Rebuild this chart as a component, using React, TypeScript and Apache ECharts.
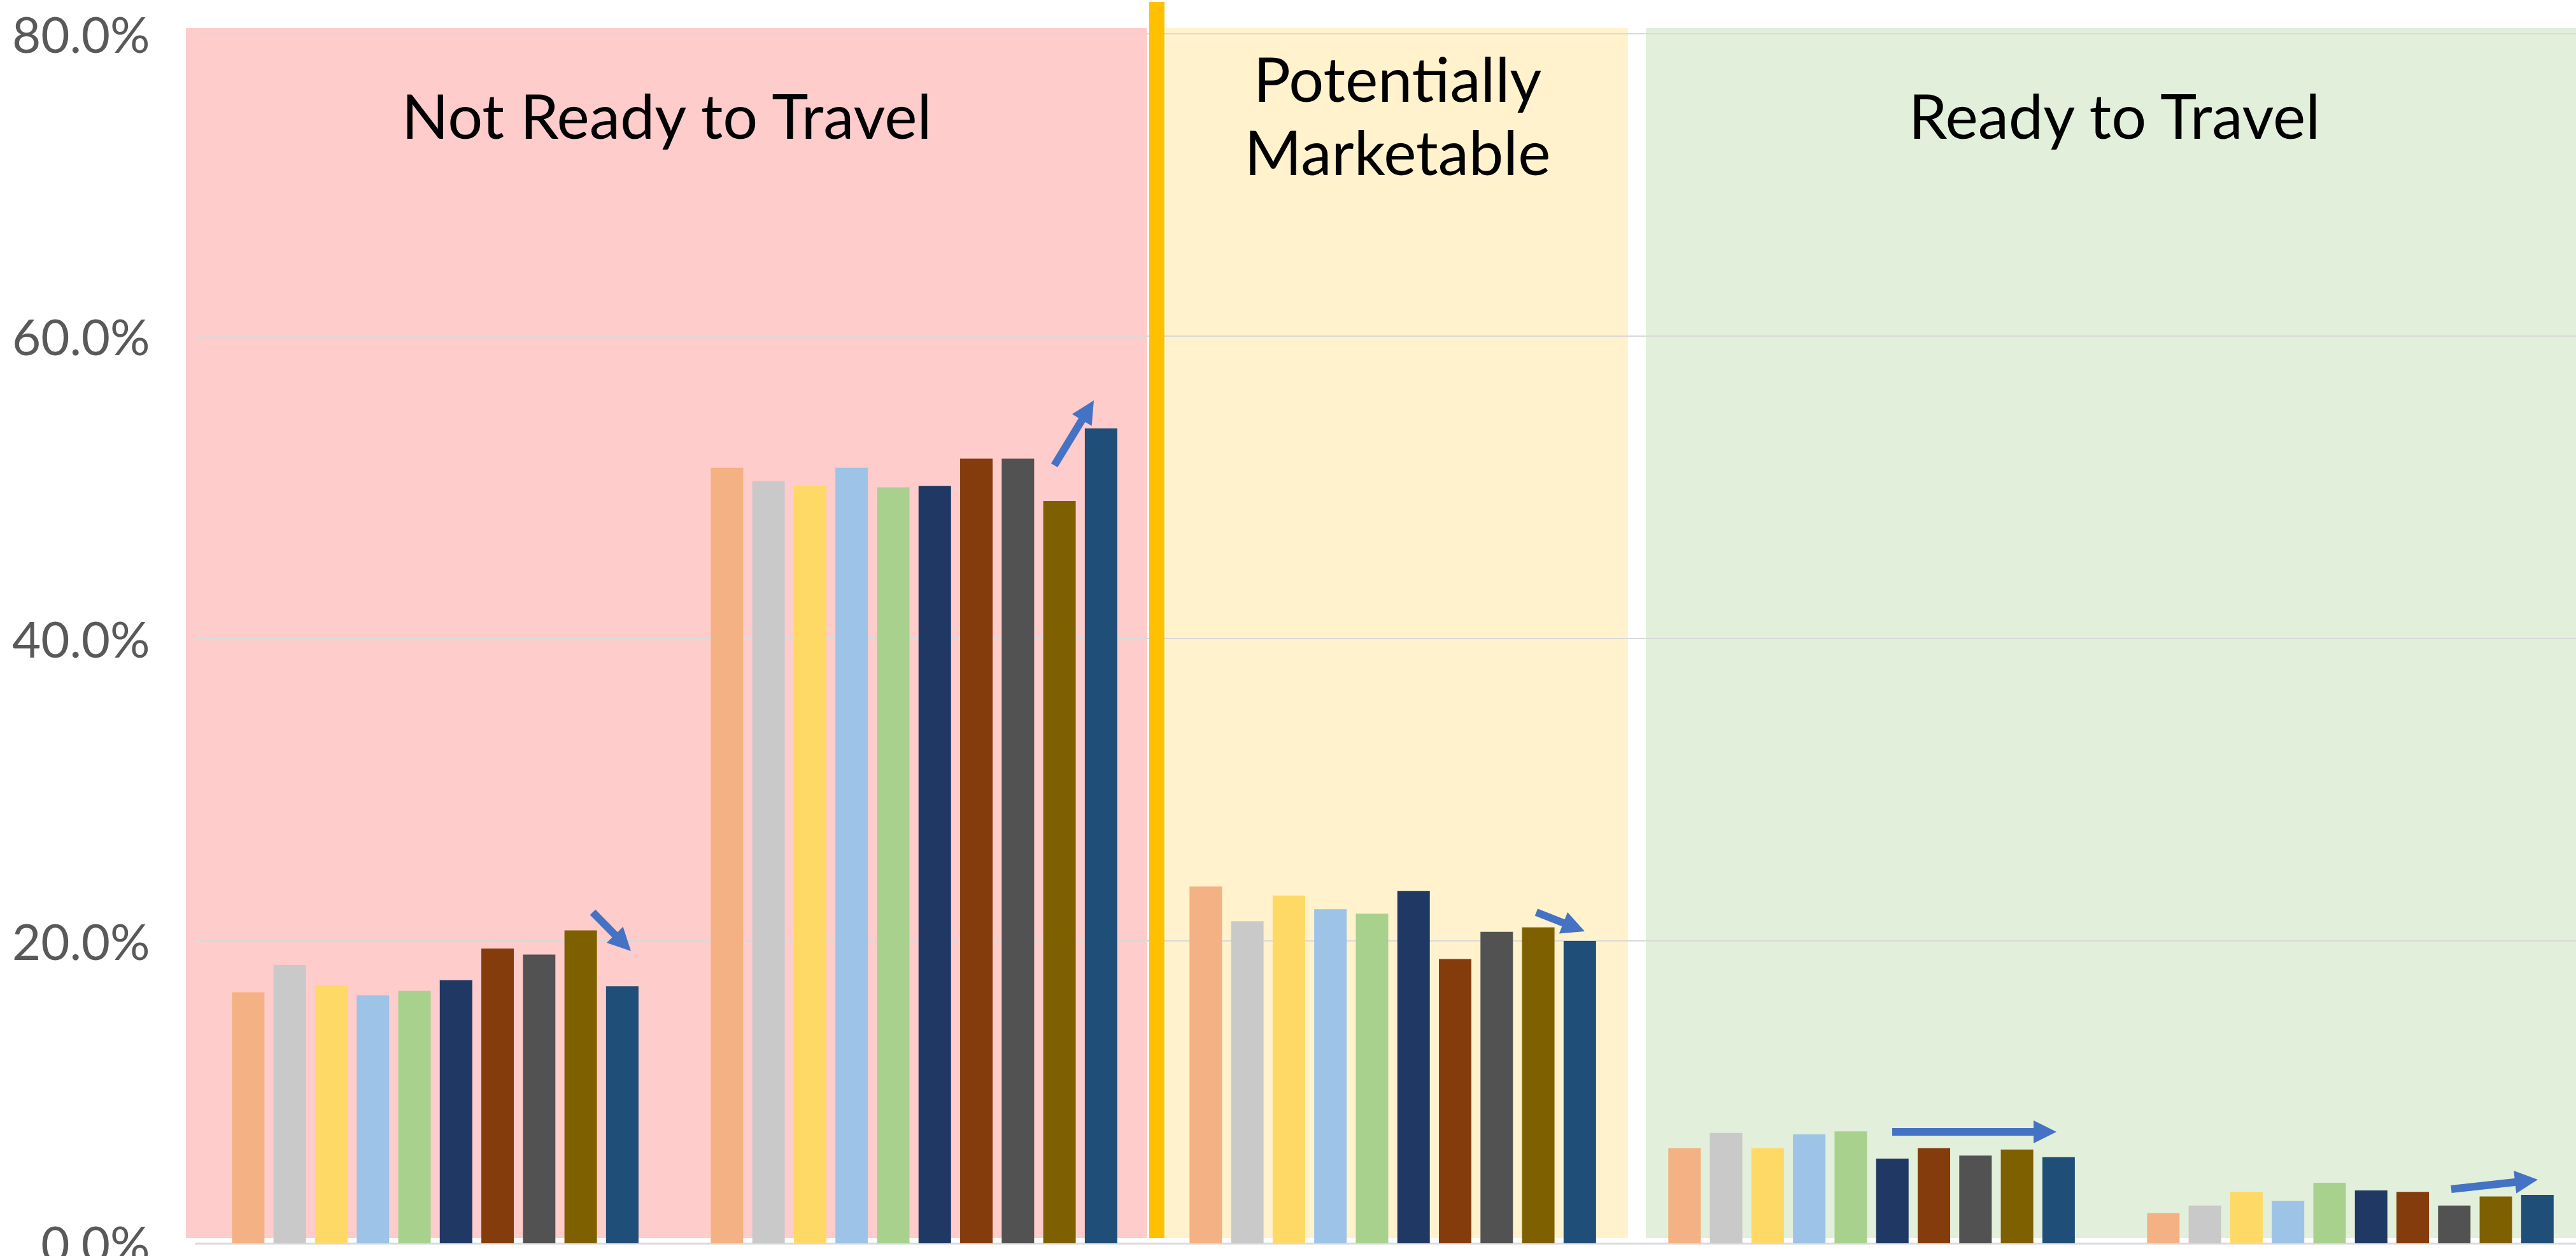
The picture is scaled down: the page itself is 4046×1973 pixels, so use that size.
import React, { useEffect, useRef } from "react";
import * as echarts from "echarts";

// ---- Data (percent values) ----
const categories = ["Group 1", "Group 2", "Group 3", "Group 4", "Group 5"];
const seriesNames = ["S1", "S2", "S3", "S4", "S5", "S6", "S7", "S8", "S9", "S10"];
const s1 = [16.6, 51.3, 23.6, 6.3, 2.0];
const s2 = [18.4, 50.4, 21.3, 7.3, 2.5];
const s3 = [17.1, 50.1, 23.0, 6.3, 3.4];
const s4 = [16.4, 51.3, 22.1, 7.2, 2.8];
const s5 = [16.7, 50.0, 21.8, 7.4, 4.0];
const s6 = [17.4, 50.1, 23.3, 5.6, 3.5];
const s7 = [19.5, 51.9, 18.8, 6.3, 3.4];
const s8 = [19.1, 51.9, 20.6, 5.8, 2.5];
const s9 = [20.7, 49.1, 20.9, 6.2, 3.1];
const s10 = [17.0, 53.9, 20.0, 5.7, 3.2];
const seriesValues = [s1, s2, s3, s4, s5, s6, s7, s8, s9, s10];
const zoneTitles = ["Not Ready to Travel", "Potentially", "Marketable", "Ready to Travel"];

// ---- Styles ----
const colors = [
  "#F4B183", "#C9C9C9", "#FFD966", "#9DC3E6", "#A9D18E",
  "#203864", "#843C0C", "#525252", "#7F6000", "#1F4E79",
];

function arrowPoints(x1: number, y1: number, x2: number, y2: number) {
  const shaftW = 12, headW = 36, headL = 36;
  const dx = x2 - x1, dy = y2 - y1;
  const len = Math.hypot(dx, dy);
  const ux = dx / len, uy = dy / len;
  const px = -uy, py = ux;
  const bx = x2 - ux * headL, by = y2 - uy * headL;
  const hs = shaftW / 2, hh = headW / 2;
  return [
    [x1 + px * hs, y1 + py * hs],
    [bx + px * hs, by + py * hs],
    [bx + px * hh, by + py * hh],
    [x2, y2],
    [bx - px * hh, by - py * hh],
    [bx - px * hs, by - py * hs],
    [x1 - px * hs, y1 - py * hs],
  ];
}

const arrowDefs = [
  [931, 1433, 991, 1494],
  [1656, 731, 1718, 629],
  [2413, 1433, 2489, 1463],
  [2972, 1778, 3230, 1778],
  [3850, 1868, 3986, 1853],
];

export default function App() {
  const ref = useRef<HTMLDivElement>(null);
  useEffect(() => {
    if (!ref.current) return;
    const chart = echarts.init(ref.current, undefined, { renderer: "svg" });
    const textStyle = (text: string, x: number, y: number) => ({
      type: "text",
      x,
      y,
      z: 10,
      style: {
        text,
        fill: "#000000",
        font: "97px Lato",
        align: "center",
        verticalAlign: "middle",
        textAlign: "center",
        textVerticalAlign: "middle",
      },
    });
    const graphic: any[] = [
      { type: "rect", z: -1, shape: { x: 292, y: 44, width: 1510, height: 1901 }, style: { fill: "#FFCCCC" } },
      { type: "rect", z: -1, shape: { x: 1831, y: 44, width: 726, height: 1901 }, style: { fill: "#FFF2CC" } },
      { type: "rect", z: -1, shape: { x: 2585, y: 44, width: 1472, height: 1901 }, style: { fill: "#E2EFDA" } },
      { type: "rect", z: 5, shape: { x: 1805, y: 3, width: 24, height: 1942 }, style: { fill: "#FFC000" } },
      textStyle(zoneTitles[0], 1047, 180),
      textStyle(zoneTitles[1], 2195, 122),
      textStyle(zoneTitles[2], 2195, 237),
      textStyle(zoneTitles[3], 3321, 180),
      ...arrowDefs.map((a) => ({
        type: "polygon",
        z: 10,
        shape: { points: arrowPoints(a[0], a[1], a[2], a[3]) },
        style: { fill: "#4472C4" },
      })),
    ];
    chart.setOption({
      animation: false,
      backgroundColor: "#FFFFFF",
      grid: {
        left: 307.6,
        top: 53,
        width: 3760,
        height: 1900,
        containLabel: false,
        outerBoundsMode: "none",
      },
      xAxis: {
        type: "category",
        data: categories,
        axisTick: { show: false },
        axisLabel: { show: false },
        axisLine: { lineStyle: { color: "#D9D9D9", width: 3 } },
        splitLine: { show: false },
      },
      yAxis: {
        type: "value",
        min: 0,
        max: 80,
        interval: 20,
        axisLine: { show: false },
        axisTick: { show: false },
        axisLabel: {
          formatter: (v: number) => `${v.toFixed(1)}%`,
          fontFamily: "Lato",
          fontSize: 78,
          color: "#595959",
          margin: 72,
        },
        splitLine: { lineStyle: { color: "#D9D9D9", width: 2 } },
      },
      series: seriesValues.map((vals, i) => ({
        type: "bar",
        name: seriesNames[i],
        data: vals,
        barWidth: 51,
        barGap: "28%",
        itemStyle: { color: colors[i] },
      })),
      graphic,
    });
    return () => chart.dispose();
  }, []);
  return (
    <div
      ref={ref}
      style={{ position: "fixed", left: 0, top: 0, width: "4046px", height: "1973px" }}
    />
  );
}
